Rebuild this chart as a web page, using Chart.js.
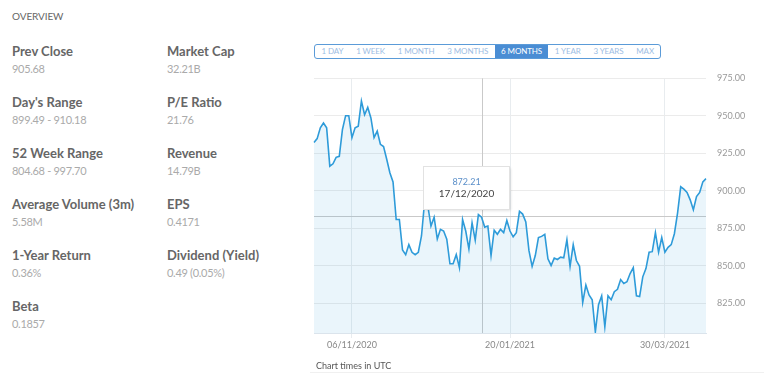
<!DOCTYPE html>
<html>
<head>
<meta charset="utf-8">
<script src="https://cdn.jsdelivr.net/npm/chart.js@4.4.1/dist/chart.umd.min.js"></script>
<style>
  html, body { margin:0; padding:0; background:#fff; width:764px; height:379px; overflow:hidden; font-family: Lato, "Noto Sans", sans-serif; }
  .abs { position:absolute; white-space:nowrap; }
  .title { left:12px; top:8px; font-size:10px; line-height:16px; color:#666; letter-spacing:-0.1px; }
  .lab { font-size:13px; font-weight:bold; color:#666; line-height:16px; }
  .val { font-size:11px; color:#aaa; line-height:16px; letter-spacing:-0.3px; }
  #btns { position:absolute; left:314px; top:44px; height:13px; border:1px solid #5b9bd8; border-radius:3px; display:flex; overflow:hidden; }
  #btns div { font-size:8px; line-height:13px; color:#9dbde3; padding:0 6.4px; letter-spacing:-0.1px; }
  #btns div.on { background:#4a8dd4; color:#fff; }
  #wrap { position:absolute; left:300px; top:62px; width:464px; height:310px; }
  .utc { left:316px; top:358px; font-size:9px; line-height:16px; color:#555; }
  .rule { position:absolute; left:310px; top:372px; width:454px; height:1px; background:#f0f0f0; }
</style>
</head>
<body>
<div class="abs title">OVERVIEW</div>
<div id="stats"></div>
<div id="btns"></div>
<div id="wrap"><canvas id="c" width="464" height="310"></canvas></div>
<div class="abs utc">Chart times in UTC</div>
<div class="rule"></div>
<script>
// ---- data ----
const dates = [
 '21/10/2020','22/10/2020','23/10/2020','26/10/2020','27/10/2020','28/10/2020','29/10/2020','30/10/2020',
 '02/11/2020','03/11/2020','04/11/2020','05/11/2020','06/11/2020','09/11/2020','10/11/2020','11/11/2020',
 '12/11/2020','13/11/2020','16/11/2020','17/11/2020','18/11/2020','19/11/2020','20/11/2020','23/11/2020',
 '24/11/2020','25/11/2020','26/11/2020','27/11/2020','30/11/2020','01/12/2020','02/12/2020','03/12/2020',
 '04/12/2020','07/12/2020','08/12/2020','09/12/2020','10/12/2020','11/12/2020','14/12/2020','15/12/2020',
 '16/12/2020','17/12/2020','18/12/2020','21/12/2020','22/12/2020','23/12/2020','24/12/2020','29/12/2020',
 '30/12/2020','31/12/2020','04/01/2021','05/01/2021','06/01/2021','07/01/2021','08/01/2021','11/01/2021',
 '12/01/2021','13/01/2021','14/01/2021','15/01/2021','18/01/2021','19/01/2021','20/01/2021','21/01/2021',
 '22/01/2021','25/01/2021','26/01/2021','27/01/2021','28/01/2021','29/01/2021','01/02/2021','02/02/2021',
 '03/02/2021','04/02/2021','05/02/2021','08/02/2021','09/02/2021','10/02/2021','11/02/2021','12/02/2021',
 '15/02/2021','16/02/2021','17/02/2021','18/02/2021','19/02/2021','22/02/2021','23/02/2021','24/02/2021',
 '25/02/2021','26/02/2021','01/03/2021','02/03/2021','03/03/2021','04/03/2021','05/03/2021','08/03/2021',
 '09/03/2021','10/03/2021','11/03/2021','12/03/2021','15/03/2021','16/03/2021','17/03/2021','18/03/2021',
 '19/03/2021','22/03/2021','23/03/2021','24/03/2021','25/03/2021','26/03/2021','29/03/2021','30/03/2021',
 '31/03/2021','01/04/2021','06/04/2021','07/04/2021','08/04/2021','09/04/2021','12/04/2021','13/04/2021',
 '14/04/2021','15/04/2021','16/04/2021','19/04/2021','20/04/2021'
];
const prices = [
 932.2,934.8,942.0,945.2,942.0,916.4,918.0,922.3,923.0,940.9,950.1,950.1,935.4,942.0,943.1,959.9,
 950.7,955.6,948.6,935.4,939.8,931.0,929.5,921.0,912.0,905.9,880.8,880.8,860.4,857.3,864.0,858.9,
 857.3,858.9,869.8,893.0,890.0,876.4,882.3,867.7,874.2,873.1,867.7,851.2,851.2,857.3,848.6,880.8,
 873.1,861.1,878.6,867.0,884.1,882.3,875.7,876.4,856.7,873.6,870.9,874.2,872.0,880.1,873.1,869.2,
 872.0,886.2,884.4,879.2,860.0,849.5,856.7,868.7,869.5,870.9,854.5,850.1,855.0,854.1,855.6,855.2,
 867.2,849.5,863.9,853.4,849.5,825.4,837.0,830.4,827.2,805.7,823.9,829.8,809.2,829.8,827.2,832.6,
 834.2,840.7,838.1,839.2,844.7,848.6,829.8,829.3,842.5,848.0,858.9,859.3,872.0,858.9,868.7,858.9,
 862.2,864.0,871.3,885.1,902.6,901.0,898.9,893.9,887.3,896.1,898.9,905.9,908.1
];
const xTickLabels = ['06/11/2020','20/01/2021','30/03/2021'];
const yTicks = [825, 850, 875, 900, 925, 950, 975];
const yMin = 805, yMax = 975;
const cursorDate = '07/01/2021', cursorValue = 883;
const tipDate = '17/12/2020', tipValue = '872.21', tipAnchorDate = '30/12/2020';
const ranges = ['1 DAY','1 WEEK','1 MONTH','3 MONTHS','6 MONTHS','1 YEAR','3 YEARS','MAX'];
const activeRange = '6 MONTHS';
const statLabels = [['Prev Close','905.68'],["Day's Range",'899.49 - 910.18'],['52 Week Range','804.68 - 997.70'],
  ['Average Volume (3m)','5.58M'],['1-Year Return','0.36%'],['Beta','0.1857']];
const statLabels2 = [['Market Cap','32.21B'],['P/E Ratio','21.76'],['Revenue','14.79B'],
  ['EPS','0.4171'],['Dividend (Yield)','0.49 (0.05%)']];

// ---- static text ----
const stats = document.getElementById('stats');
function addCol(list, x) {
  list.forEach((p, i) => {
    const a = document.createElement('div'); a.className = 'abs lab';
    a.style.left = x + 'px'; a.style.top = (43 + i * 51) + 'px'; a.textContent = p[0];
    const b = document.createElement('div'); b.className = 'abs val';
    b.style.left = x + 'px'; b.style.top = (61 + i * 51) + 'px'; b.textContent = p[1];
    stats.appendChild(a); stats.appendChild(b);
  });
}
addCol(statLabels, 12); addCol(statLabels2, 167);
const btns = document.getElementById('btns');
ranges.forEach(r => { const d = document.createElement('div'); d.textContent = r; if (r === activeRange) d.className = 'on'; btns.appendChild(d); });

// ---- chart ----
const crosshair = {
  id: 'crosshair',
  beforeDatasetsDraw(chart) {
    const {ctx, chartArea: a, scales: {x, y}} = chart;
    const cx = Math.round(x.getPixelForValue(dates.indexOf(cursorDate))) + 0.5;
    const cy = Math.round(y.getPixelForValue(cursorValue)) + 0.5;
    ctx.save();
    ctx.strokeStyle = '#c9c9c9'; ctx.lineWidth = 1;
    ctx.beginPath(); ctx.moveTo(cx, a.top); ctx.lineTo(cx, a.bottom); ctx.stroke();
    ctx.beginPath(); ctx.moveTo(a.left, cy); ctx.lineTo(a.right, cy); ctx.stroke();
    ctx.restore();
  },
  afterDatasetsDraw(chart) {
    const {ctx, scales: {x, y}} = chart;
    const cy = y.getPixelForValue(cursorValue);
    const mx = x.getPixelForValue(dates.indexOf(tipAnchorDate));
    const w = 86, h = 43;
    const left = Math.round(mx - w / 2) + 0.5, top = Math.round(cy - 50) + 0.5;
    ctx.save();
    ctx.shadowColor = 'rgba(0,0,0,0.15)'; ctx.shadowBlur = 3; ctx.shadowOffsetX = 1; ctx.shadowOffsetY = 1;
    ctx.fillStyle = '#fff'; ctx.fillRect(left, top, w, h);
    ctx.shadowColor = 'transparent';
    ctx.strokeStyle = '#e2e2e2'; ctx.lineWidth = 1; ctx.strokeRect(left, top, w, h);
    ctx.textAlign = 'center'; ctx.textBaseline = 'middle';
    ctx.fillStyle = '#5b8fc9'; ctx.font = '9px Lato';
    ctx.fillText(tipValue, left + w / 2, top + 16);
    ctx.fillStyle = '#444'; ctx.font = '10px Lato';
    ctx.fillText(tipDate, left + w / 2, top + 27.5);
    ctx.restore();
  }
};

new Chart(document.getElementById('c'), {
  type: 'line',
  data: {
    labels: dates,
    datasets: [{
      data: prices,
      borderColor: '#2e9bd9',
      backgroundColor: 'rgba(46,155,217,0.1)',
      borderWidth: 1.6,
      fill: 'start',
      pointRadius: 0,
      tension: 0
    }]
  },
  options: {
    responsive: false,
    animation: false,
    layout: { padding: { left: 14, top: 13, right: 0, bottom: 0 } },
    plugins: { legend: { display: false }, tooltip: { enabled: false } },
    scales: {
      x: {
        type: 'category',
        afterBuildTicks: ax => { ax.ticks = xTickLabels.map(l => ({ value: dates.indexOf(l) })); },
        afterFit: ax => { ax.height = 39; },
        ticks: { autoSkip: false, maxRotation: 0, padding: 2, color: '#888', font: { family: 'Lato', size: 9 } },
        grid: { color: '#e8ecef', tickLength: 5, drawTicks: true },
        border: { color: '#dbe4ec' }
      },
      y: {
        position: 'right',
        min: yMin, max: yMax,
        afterBuildTicks: ax => { ax.ticks = yTicks.map(v => ({ value: v })); },
        afterFit: ax => { ax.width = 58; },
        ticks: { padding: 11, color: '#999', font: { family: 'Lato', size: 9 }, callback: v => Number(v).toFixed(2) },
        grid: { color: '#ebebeb', drawTicks: false },
        border: { display: false }
      }
    }
  },
  plugins: [crosshair]
});
</script>
</body>
</html>
